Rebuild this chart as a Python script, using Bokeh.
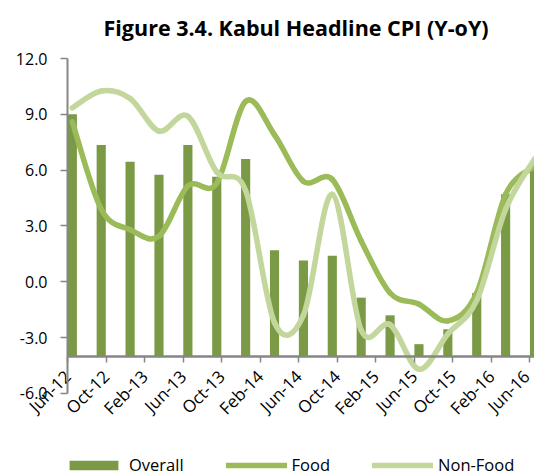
import math
from bokeh.plotting import figure
from bokeh.models import (ColumnDataSource, FixedTicker, LinearAxis, Legend, LegendItem,
                          Range1d, NumeralTickFormatter)
from bokeh.embed import file_html
from bokeh.resources import INLINE

# ---------------- data ----------------
tick_labels = ["Jun-12", "Oct-12", "Feb-13", "Jun-13", "Oct-13", "Feb-14", "Jun-14",
               "Oct-14", "Feb-15", "Jun-15", "Oct-15", "Feb-16", "Jun-16"]
quarters = ["Jun-12", "Sep-12", "Dec-12", "Mar-13", "Jun-13", "Sep-13", "Dec-13",
            "Mar-14", "Jun-14", "Sep-14", "Dec-14", "Mar-15", "Jun-15", "Sep-15",
            "Dec-15", "Mar-16", "Jun-16"]
overall = [9.0, 7.35, 6.45, 5.75, 7.35, 5.65, 6.6, 1.7, 1.15, 1.4, -0.85, -1.8,
           -3.35, -2.55, -0.6, 4.7, 6.2]
food = [8.6, 3.9, 2.8, 2.45, 5.15, 5.3, 9.7, 7.9, 5.4, 5.5, 2.2, -0.6, -1.2,
        -2.1, -0.6, 4.7, 6.2]
non_food = [9.35, 10.25, 9.85, 8.1, 8.9, 5.9, 4.9, -2.2, -1.8, 4.7, -2.6, -2.3,
            -4.7, -2.8, -1.0, 3.9, 6.6]
y_ticks = [-6, -3, 0, 3, 6, 9, 12]
axis_cross = -4  # horizontal axis crosses the value axis here

# month index of each quarter (Jun-12 = 0), category centre offset 0.5
q_pos = [3 * i + 0.5 for i in range(len(quarters))]
tick_pos = [4 * i for i in range(len(tick_labels))]

BAR = "#7A9A45"
FOOD = "#9BBB59"
NONFOOD = "#C3D69B"
AXIS = "#868686"
FONT = "Open Sans"


def smooth(xs, ys):
    """Catmull-Rom style bezier segments (like a spreadsheet 'smoothed line')."""
    n = len(xs)
    d = {k: [] for k in ("x0", "y0", "x1", "y1", "cx0", "cy0", "cx1", "cy1")}
    for i in range(n - 1):
        xp, yp = (xs[i - 1], ys[i - 1]) if i > 0 else (xs[i], ys[i])
        xn, yn = (xs[i + 2], ys[i + 2]) if i + 2 < n else (xs[i + 1], ys[i + 1])
        d["x0"].append(xs[i]); d["y0"].append(ys[i])
        d["x1"].append(xs[i + 1]); d["y1"].append(ys[i + 1])
        d["cx0"].append(xs[i] + (xs[i + 1] - xp) / 6)
        d["cy0"].append(ys[i] + (ys[i + 1] - yp) / 6)
        d["cx1"].append(xs[i + 1] - (xn - xs[i]) / 6)
        d["cy1"].append(ys[i + 1] - (yn - ys[i]) / 6)
    return ColumnDataSource(d)


x_end = tick_pos[-1] + 0.5
p = figure(width=534, height=476, x_range=Range1d(-6.96, x_end), y_range=Range1d(-10.46, 12.43),
           output_backend="svg", toolbar_location=None, x_axis_location=None,
           y_axis_location=None, title="Figure 3.4. Kabul Headline CPI (Y-oY)",
           min_border_left=0, min_border_right=0, min_border_top=50, min_border_bottom=0)

p.title.align = "left"
p.title.offset = 103
p.title.text_font = FONT
p.title.text_font_size = "21.5px"
p.title.text_font_style = "bold"
p.title.text_color = "black"
p.title.standoff = 18

p.grid.visible = False
p.outline_line_color = None
p.background_fill_color = "white"

# bars
bars = p.vbar(x=q_pos, top=overall, bottom=axis_cross, width=0.95, fill_color=BAR,
              line_color=None)

# smoothed lines
r_food = p.bezier(x0="x0", y0="y0", x1="x1", y1="y1", cx0="cx0", cy0="cy0", cx1="cx1",
                  cy1="cy1", source=smooth(q_pos, food), line_color=FOOD, line_width=5.5,
                  line_cap="round")
r_non = p.bezier(x0="x0", y0="y0", x1="x1", y1="y1", cx0="cx0", cy0="cy0", cx1="cx1",
                 cy1="cy1", source=smooth(q_pos, non_food), line_color=NONFOOD,
                 line_width=5.5, line_cap="round")

# value axis at Jun-12
ya = LinearAxis(fixed_location=tick_pos[0], ticker=FixedTicker(ticks=y_ticks),
                formatter=NumeralTickFormatter(format="0.0"),
                bounds=(y_ticks[0], y_ticks[-1]))
ya.axis_line_color = AXIS
ya.axis_line_width = 2
ya.major_tick_line_color = AXIS
ya.major_tick_line_width = 1.5
ya.major_tick_out = 7
ya.major_tick_in = 0
ya.minor_tick_line_color = None
ya.major_label_standoff = 13
ya.major_label_text_font = FONT
ya.major_label_text_font_size = "16px"
ya.major_label_text_color = "black"
p.add_layout(ya, "left")

# category axis crossing at -4
xa = LinearAxis(fixed_location=axis_cross, ticker=FixedTicker(ticks=tick_pos),
                major_label_overrides={t: l for t, l in zip(tick_pos, tick_labels)},
                major_label_orientation=math.pi / 4, bounds=(tick_pos[0], x_end))
xa.axis_line_color = AXIS
xa.axis_line_width = 2.5
xa.major_tick_line_color = AXIS
xa.major_tick_line_width = 1.5
xa.major_tick_out = 6
xa.major_tick_in = 0
xa.minor_tick_line_color = None
xa.major_label_standoff = 11
xa.major_label_text_font = FONT
xa.major_label_text_font_size = "17px"
xa.major_label_text_color = "black"
p.add_layout(xa, "below")

legend = Legend(items=[LegendItem(label="Overall", renderers=[bars]),
                       LegendItem(label="Food", renderers=[r_food]),
                       LegendItem(label="Non-Food", renderers=[r_non])],
                orientation="horizontal", location=(63, 0),
                glyph_width=61, glyph_height=12, label_standoff=5, spacing=42,
                padding=0, margin=0, border_line_color=None, background_fill_alpha=0,
                label_text_font=FONT, label_text_font_size="16.5px",
                label_text_color="black")
p.add_layout(legend, "center")

open("out.html", "w").write(file_html(p, INLINE))
